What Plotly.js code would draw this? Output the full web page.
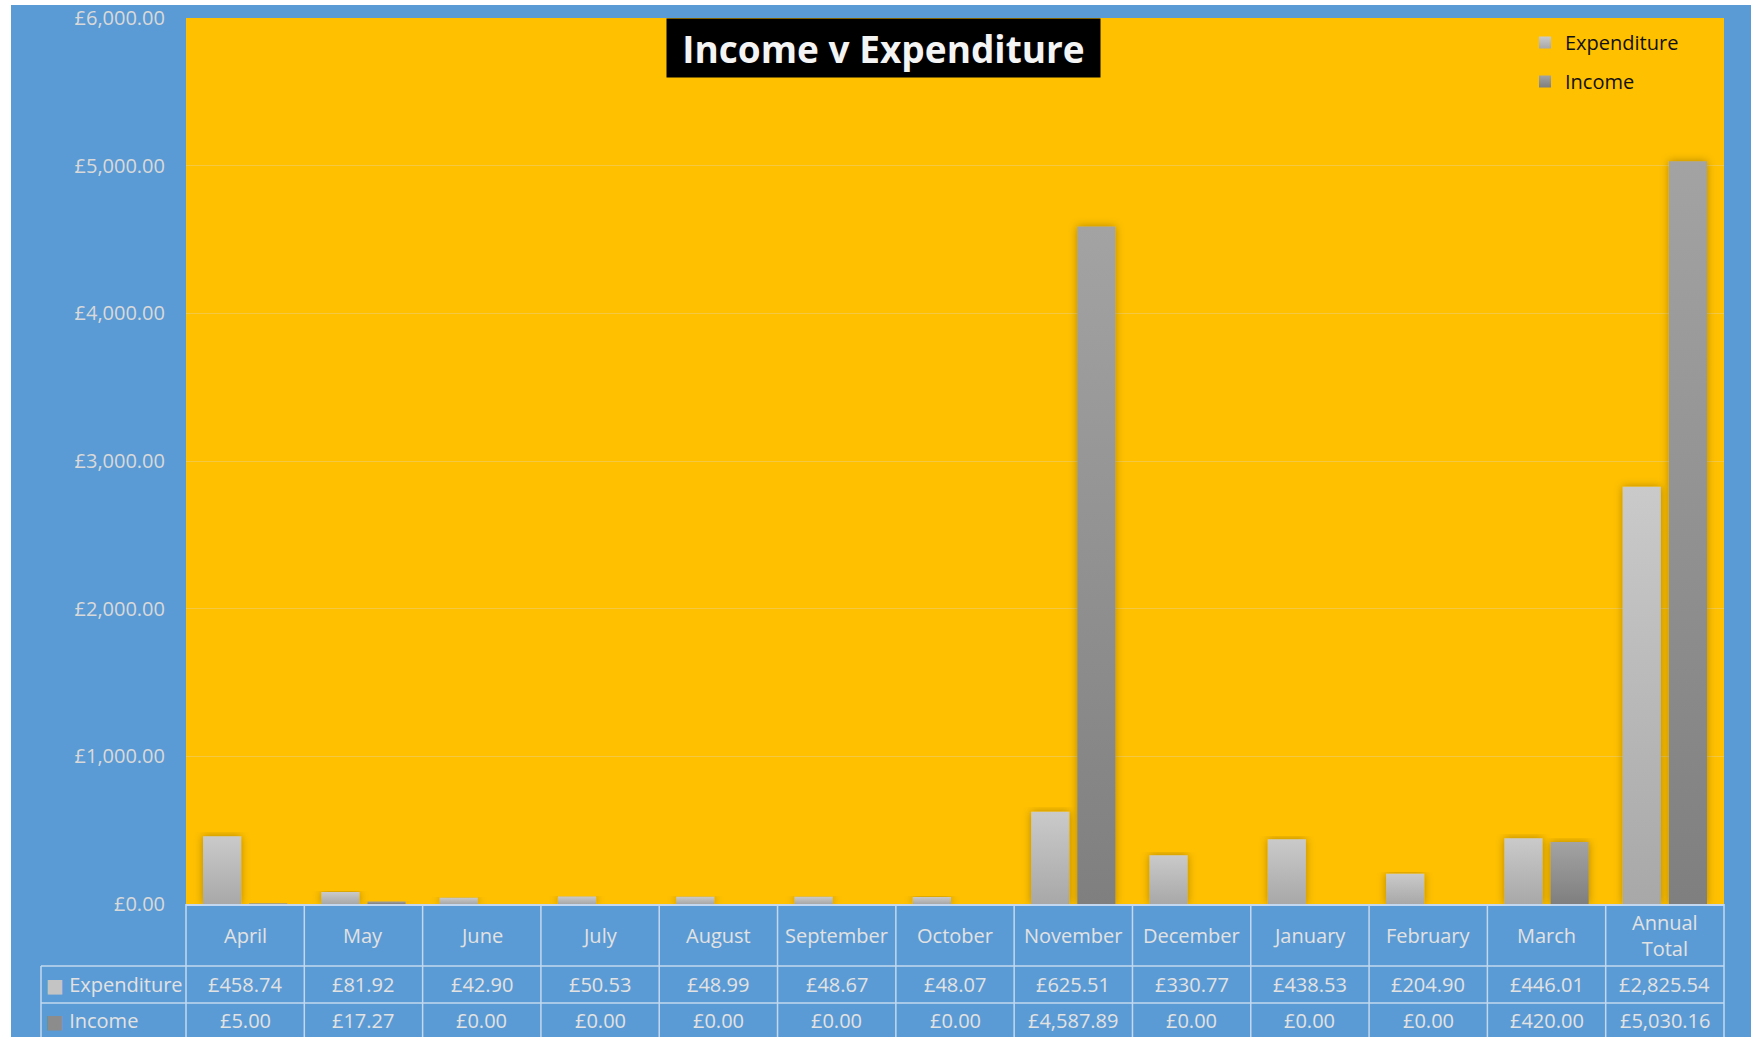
<!DOCTYPE html>
<html><head><meta charset="utf-8">
<script src="https://cdn.plot.ly/plotly-3.0.1.min.js"></script>
<style>
html,body{margin:0;padding:0;background:#ffffff;}
#chart{position:absolute;left:11px;top:5px;width:1740px;height:1032px;}
</style></head><body><div id="chart"></div>
<script>
// ---- data ----
const categories = ['April','May','June','July','August','September','October','November','December','January','February','March','Annual Total'];
const categoryLabels = ['April','May','June','July','August','September','October','November','December','January','February','March','Annual<br>Total'];
const expenditure = [458.74, 81.92, 42.90, 50.53, 48.99, 48.67, 48.07, 625.51, 330.77, 438.53, 204.90, 446.01, 2825.54];
const income = [5.00, 17.27, 0.00, 0.00, 0.00, 0.00, 0.00, 4587.89, 0.00, 0.00, 0.00, 420.00, 5030.16];
const seriesNames = ['Expenditure', 'Income'];
const yTickValues = [0, 1000, 2000, 3000, 4000, 5000, 6000];
const chartTitle = 'Income v Expenditure';

// ---- layout constants ----
const W = 1740, H = 1032;
const xDom = [175 / W, 1713 / W];
const yDom = [1 - 899 / H, 1 - 13 / H];
const catRowY = 1 - 930 / H;
const expRowY = 1 - 979.5 / H;
const incRowY = 1 - 1015.6 / H;
const row1Top = 1 - 961 / H;
const row2Top = 1 - 998 / H;
const tableLeft = 30 / W;
const lineColor = '#c3d8ef';
const textColor = '#e2e2e2';
const FONT = 'Open Sans, Noto Sans, sans-serif';

function money(v) {
  const parts = v.toFixed(2).split('.');
  parts[0] = parts[0].replace(/\B(?=(\d{3})+$)/g, ',');
  return '£' + parts[0] + '.' + parts[1];
}

const data = [
  {type: 'bar', name: seriesNames[0], x: categories, y: expenditure, legendgroup: 'a',
   marker: {color: '#bdbdbd'}},
  {type: 'bar', name: seriesNames[1], x: categories, y: income, legendgroup: 'b',
   marker: {color: '#939393'}}
];

const shapes = [];
const n = categories.length;
for (let i = 0; i <= n; i++) {
  const xp = xDom[0] + (xDom[1] - xDom[0]) * i / n;
  shapes.push({type: 'line', xref: 'paper', yref: 'paper', x0: xp, x1: xp, y0: -0.01, y1: yDom[0],
    line: {color: lineColor, width: 1.5}, layer: 'above'});
}
shapes.push({type: 'line', xref: 'paper', yref: 'paper', x0: tableLeft, x1: tableLeft, y0: -0.01, y1: row1Top,
  line: {color: lineColor, width: 1.5}});
[row1Top, row2Top].forEach(yy => shapes.push({type: 'line', xref: 'paper', yref: 'paper',
  x0: tableLeft, x1: xDom[1], y0: yy, y1: yy, line: {color: lineColor, width: 1.5}}));

const annotations = [];
annotations.push({xref: 'paper', yref: 'paper', x: (656 + 1089) / 2 / W, y: 1 - 43 / H,
  xanchor: 'center', yanchor: 'middle', showarrow: false, text: '<b>' + chartTitle + '</b>',
  font: {family: FONT, size: 37, color: '#f4f4f4'}, bgcolor: '#000000', width: 433, height: 58, borderpad: 0});
categories.forEach((c, i) => {
  annotations.push({xref: 'x', yref: 'paper', x: c, y: catRowY, showarrow: false,
    xanchor: 'center', yanchor: 'middle', text: categoryLabels[i], font: {family: FONT, size: 20, color: textColor}});
  annotations.push({xref: 'x', yref: 'paper', x: c, y: expRowY, showarrow: false,
    xanchor: 'center', yanchor: 'middle', text: money(expenditure[i]), font: {family: FONT, size: 20, color: textColor}});
  annotations.push({xref: 'x', yref: 'paper', x: c, y: incRowY, showarrow: false,
    xanchor: 'center', yanchor: 'middle', text: money(income[i]), font: {family: FONT, size: 20, color: textColor}});
});
annotations.push({xref: 'paper', yref: 'paper', x: 33 / W, y: expRowY, xanchor: 'left', yanchor: 'middle', showarrow: false,
  text: "<span style='color:#c4c4c4;font-family:DejaVu Sans;font-size:19px'>■</span> " + seriesNames[0], font: {family: FONT, size: 20, color: textColor}});
annotations.push({xref: 'paper', yref: 'paper', x: 33 / W, y: incRowY, xanchor: 'left', yanchor: 'middle', showarrow: false,
  text: "<span style='color:#8c8c8c;font-family:DejaVu Sans;font-size:19px'>■</span> " + seriesNames[1], font: {family: FONT, size: 20, color: textColor}});

const layout = {
  width: W, height: H, autosize: false,
  margin: {l: 0, r: 0, t: 0, b: 0, pad: 0},
  paper_bgcolor: '#5b9bd5', plot_bgcolor: '#ffc000',
  font: {family: FONT, size: 20, color: textColor},
  barmode: 'group', bargap: 0.22, bargroupgap: 0.174,
  showlegend: true,
  legend: {x: 1514 / W, y: 1 - 18 / H, xanchor: 'left', yanchor: 'top', bgcolor: 'rgba(0,0,0,0)',
    font: {family: FONT, size: 20, color: '#111111'}, itemwidth: 30, tracegroupgap: 10, traceorder: 'grouped'},
  xaxis: {domain: xDom, type: 'category', range: [-0.5, n - 0.5], showticklabels: false, ticks: '',
    showgrid: false, zeroline: false, showline: true, linecolor: lineColor, linewidth: 2, fixedrange: true},
  yaxis: {domain: yDom, range: [0, 6000], tickmode: 'array', tickvals: yTickValues, ticktext: yTickValues.map(money),
    ticklabeloverflow: 'allow', ticks: '', ticklabelstandoff: 20, showgrid: true, gridcolor: 'rgba(217,217,217,0.3)', gridwidth: 1,
    zeroline: false, showline: false, tickfont: {family: FONT, size: 20, color: '#d9d9d9'}, fixedrange: true},
  shapes: shapes,
  annotations: annotations
};

Plotly.newPlot('chart', data, layout, {displayModeBar: false, staticPlot: true}).then(gd => {
  const ns = 'http://www.w3.org/2000/svg';
  const svg = gd.querySelector('svg.main-svg');
  let defs = svg.querySelector('defs');
  if (!defs) { defs = document.createElementNS(ns, 'defs'); svg.insertBefore(defs, svg.firstChild); }
  function grad(id, c1, c2) {
    const g = document.createElementNS(ns, 'linearGradient');
    g.setAttribute('id', id); g.setAttribute('x1', '0'); g.setAttribute('y1', '0'); g.setAttribute('x2', '0'); g.setAttribute('y2', '1');
    [[0, c1], [1, c2]].forEach(([o, c]) => { const s = document.createElementNS(ns, 'stop'); s.setAttribute('offset', o); s.setAttribute('stop-color', c); g.appendChild(s); });
    defs.appendChild(g);
  }
  grad('gExp', '#cacaca', '#a8a8a8');
  grad('gInc', '#a3a3a3', '#7f7f7f');
  const f = document.createElementNS(ns, 'filter');
  f.setAttribute('id', 'barShadow'); f.setAttribute('x', '-60%'); f.setAttribute('y', '-5%'); f.setAttribute('width', '220%'); f.setAttribute('height', '110%');
  const ds = document.createElementNS(ns, 'feDropShadow');
  ds.setAttribute('dx', '0'); ds.setAttribute('dy', '0'); ds.setAttribute('stdDeviation', '4');
  ds.setAttribute('flood-color', '#000'); ds.setAttribute('flood-opacity', '0.3');
  f.appendChild(ds); defs.appendChild(f);
  const ids = ['gExp', 'gInc'];
  gd.querySelectorAll('.barlayer .trace').forEach((t, k) => {
    t.querySelectorAll('path').forEach(p => { p.style.fill = 'url(#' + ids[k] + ')'; p.setAttribute('filter', 'url(#barShadow)'); });
  });
  gd.querySelectorAll('.legend .traces').forEach((t, k) => {
    t.querySelectorAll('.legendpoints path').forEach(p => { p.style.fill = 'url(#' + ids[k] + ')'; });
  });
});
</script></body></html>
